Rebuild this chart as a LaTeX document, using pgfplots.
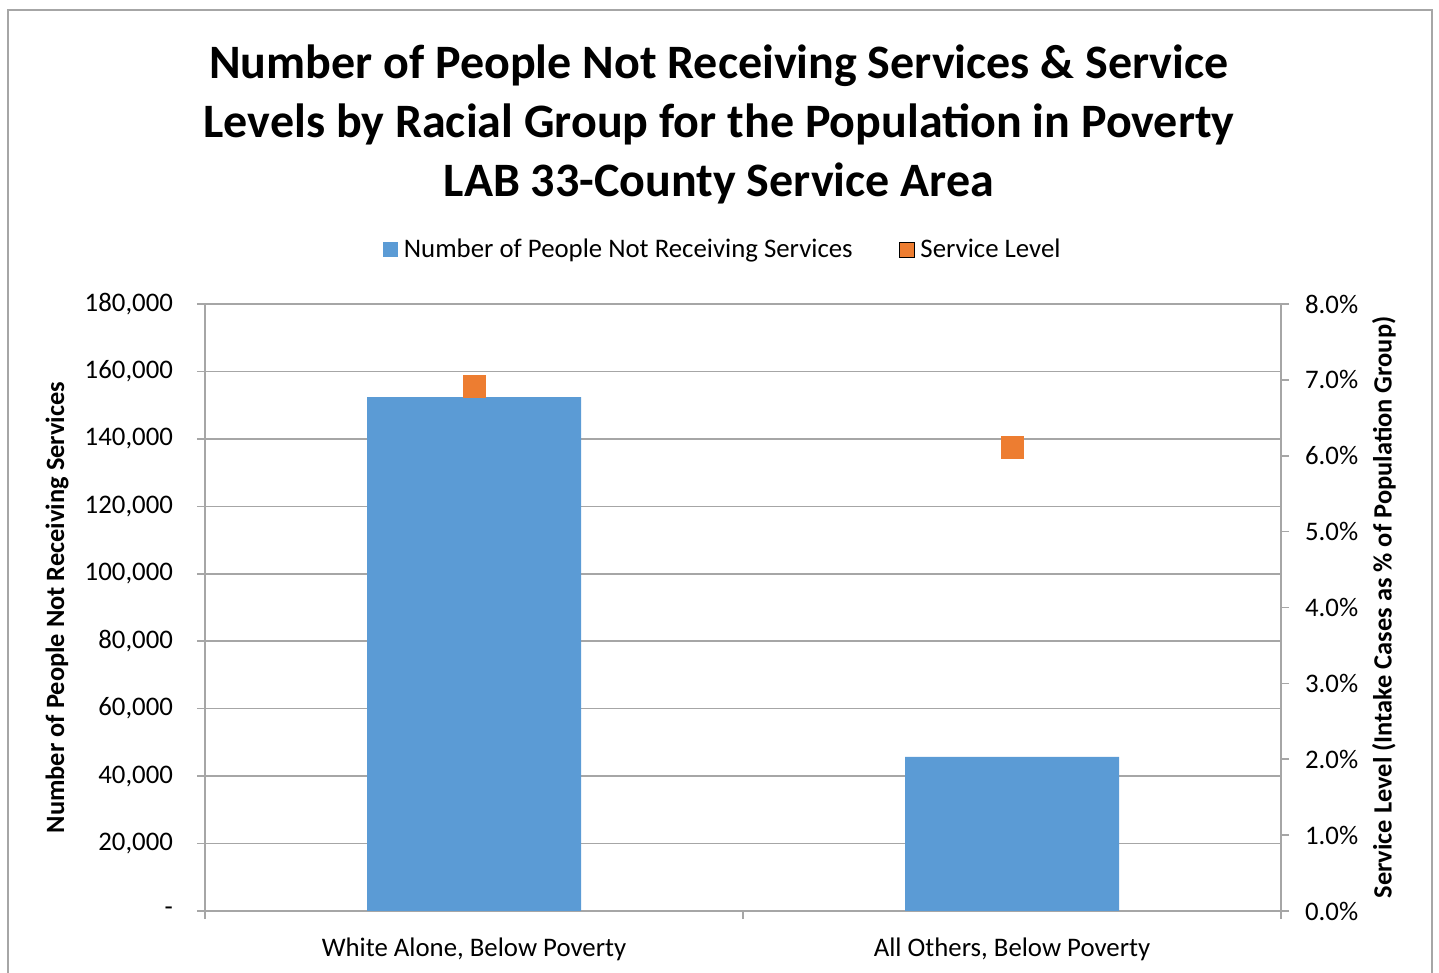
\documentclass[border=0pt]{standalone}
\usepackage{pgfplots}
\pgfplotsset{compat=1.18}
\usepackage{fontspec}
\setmainfont{Carlito}
\definecolor{barblue}{HTML}{5B9BD5}
\definecolor{orng}{HTML}{ED7D31}
\definecolor{gridg}{HTML}{A6A6A6}
\begin{document}
\begin{tikzpicture}[x=0.5pt,y=0.5pt]
\useasboundingbox (0,0) rectangle (1439,973);
\draw[gridg, line width=0.6pt] (8,0) -- (8,963) -- (1432,963) -- (1432,0);
\node[font=\bfseries\fontsize{24}{29.5}\selectfont, align=center] at (719,849) {Number of People Not Receiving Services \& Service\\Levels by Racial Group for the Population in Poverty\\LAB 33-County Service Area};
\begin{axis}[at={(102.5pt,31pt)}, anchor=south west, scale only axis,
  width=538pt, height=303.5pt,
  xmin=-0.5, xmax=1.5, ymin=0, ymax=180000,
  scaled y ticks=false,
  axis x line*=bottom, axis y line*=left,
  axis line style={-, draw=gridg, line width=0.8pt},
  tick align=outside, major tick length=4pt,
  ytick={0,20000,...,180000},
  yticklabels={{-\hspace{5pt}},{20,000},{40,000},{60,000},{80,000},{100,000},{120,000},{140,000},{160,000},{180,000}},
  ymajorgrids, grid style={draw=gridg, line width=0.8pt},
  ytick style={draw=gridg, line width=0.8pt},
  xtick={0,1},
  xticklabels={{White Alone, Below Poverty},{All Others, Below Poverty}},
  xtick style={draw=none},
  extra x ticks={-0.5,0.5,1.5}, extra x tick labels={},
  extra x tick style={xtick style={draw=gridg, line width=0.8pt}, grid=none},
  ticklabel style={font=\fontsize{13.4}{15}\selectfont},
  yticklabel style={xshift=-8.5pt},
  xticklabel style={yshift=-6pt},
  ylabel={Number of People Not Receiving Services},
  ylabel style={font=\bfseries\fontsize{13.2}{15}\selectfont, at={(axis description cs:-0.1375,0.5)}, anchor=center},
  legend style={at={(0.483,1.089)}, anchor=center, draw=none, legend columns=2,
    font=\fontsize{13.4}{15}\selectfont,
    nodes={inner sep=3pt},
    /tikz/every even column/.append style={column sep=20pt}},
  legend image code/.code={\fill[#1] (0pt,-3.75pt) rectangle (7.5pt,3.75pt);},
]
\addplot[ybar, bar width=107pt, bar shift=0pt, fill=barblue, draw=none] coordinates {(0,152400) (1,45700)};
\addlegendentry{Number of People Not Receiving Services}
\addlegendimage{fill=orng}
\addlegendentry{Service Level}
\end{axis}
\begin{axis}[at={(102.5pt,31pt)}, anchor=south west, scale only axis,
  width=538pt, height=303.5pt,
  xmin=-0.5, xmax=1.5, ymin=0, ymax=8,
  axis x line=none, axis y line*=right,
  axis line style={-, draw=gridg, line width=0.8pt},
  tick align=outside, major tick length=4pt,
  ytick={0,1,...,8},
  yticklabels={{0.0\%},{1.0\%},{2.0\%},{3.0\%},{4.0\%},{5.0\%},{6.0\%},{7.0\%},{8.0\%}},
  ytick style={draw=gridg, line width=0.8pt},
  ticklabel style={font=\fontsize{13.4}{15}\selectfont},
  yticklabel style={xshift=4.5pt},
  ylabel={Service Level (Intake Cases as \% of Population Group)},
  ylabel style={font=\bfseries\fontsize{13.2}{15}\selectfont, at={(axis description cs:1.0957,0.5)}, anchor=center, rotate=0},
]
\addplot[only marks, mark=square*, mark size=5.5pt, color=orng] coordinates {(0,6.91) (1,6.11)};
\end{axis}
\end{tikzpicture}
\end{document}
